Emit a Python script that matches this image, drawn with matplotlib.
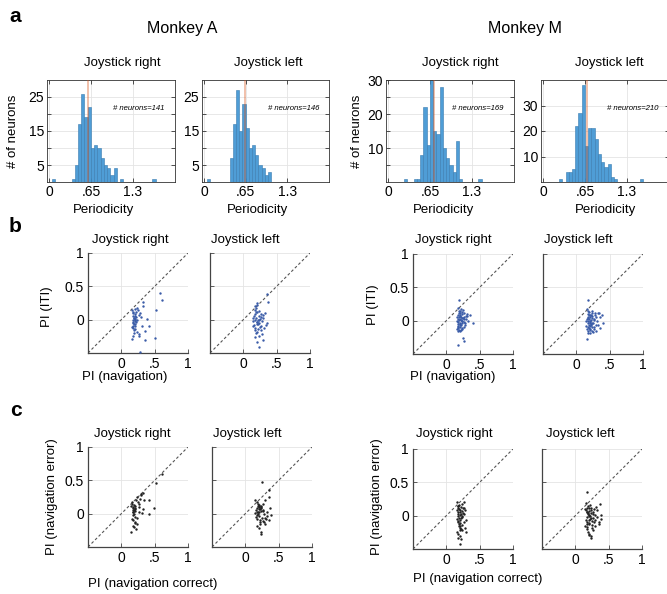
import matplotlib
matplotlib.use("Agg")
from matplotlib import pyplot as plt

plt.rcParams['font.family'] = ['Liberation Sans', 'DejaVu Sans']

W, H = 667, 594

# ---- histogram data: bin left edge (periodicity) and neuron count ----
bin_w = 0.05
hAR_left = [0.05, 0.35, 0.40, 0.45, 0.50, 0.55, 0.60, 0.65, 0.70, 0.75, 0.80, 0.85, 0.90, 0.95, 1.00, 1.10, 1.60]
hAR_cnt = [1, 1, 5, 17, 26, 19, 22, 10, 11, 10, 7, 5, 4, 2, 4, 1, 1]
hAR_med = 0.61

hAL_left = [0.05, 0.40, 0.45, 0.50, 0.55, 0.60, 0.65, 0.70, 0.75, 0.80, 0.85, 0.90, 0.95, 1.00]
hAL_cnt = [1, 7, 17, 27, 15, 23, 16, 10, 11, 8, 5, 4, 2, 3]
hAL_med = 0.635

hMR_left = [0.25, 0.40, 0.45, 0.50, 0.55, 0.60, 0.65, 0.70, 0.75, 0.80, 0.85, 0.90, 0.95, 1.00, 1.05, 1.10, 1.40]
hMR_cnt = [1, 1, 1, 8, 22, 11, 31, 15, 14, 28, 10, 7, 5, 3, 12, 1, 1]
hMR_med = 0.717

hML_left = [0.25, 0.35, 0.40, 0.45, 0.50, 0.55, 0.60, 0.65, 0.70, 0.75, 0.80, 0.85, 0.90, 0.95, 1.00, 1.05, 1.10, 1.50]
hML_cnt = [1, 4, 4, 5, 22, 27, 38, 14, 21, 21, 17, 11, 8, 6, 7, 2, 1, 1]
hML_med = 0.676

n_neurons = [141, 146, 169, 210]

# ---- b: PI (navigation) vs PI (ITI) ----
bAR_x = [0.16, 0.17, 0.18, 0.19, 0.20, 0.21, 0.22, 0.17, 0.18, 0.19,
         0.20, 0.21, 0.16, 0.18, 0.19, 0.20, 0.22, 0.23, 0.17, 0.19,
         0.18, 0.20, 0.21, 0.16, 0.19, 0.17, 0.22, 0.18, 0.20, 0.24,
         0.23, 0.25, 0.26, 0.27, 0.28, 0.30, 0.31, 0.33, 0.35, 0.35,
         0.38, 0.41, 0.28, 0.32, 0.50, 0.52, 0.58, 0.61, 0.26, 0.21]
bAR_y = [0.14, 0.10, 0.06, 0.03, 0.01, -0.01, 0.04, -0.03, -0.05, -0.07,
         -0.02, -0.09, -0.11, -0.13, -0.16, 0.08, -0.04, 0.00, 0.12, -0.20,
         -0.24, 0.05, -0.06, -0.29, 0.02, -0.01, 0.11, -0.09, -0.14, 0.18,
         -0.19, 0.15, -0.22, -0.25, 0.10, 0.04, -0.10, 0.26, -0.17, -0.30,
         0.01, -0.10, -0.48, 0.20, -0.27, 0.14, 0.40, 0.30, 0.07, 0.16]

bAL_x = [0.15, 0.16, 0.17, 0.18, 0.19, 0.20, 0.21, 0.22, 0.23, 0.24,
         0.16, 0.17, 0.18, 0.19, 0.20, 0.21, 0.22, 0.15, 0.17, 0.19,
         0.21, 0.23, 0.25, 0.26, 0.27, 0.28, 0.29, 0.30, 0.31, 0.33,
         0.34, 0.36, 0.37, 0.36, 0.18, 0.20, 0.22, 0.24, 0.26, 0.28,
         0.19, 0.21, 0.23, 0.25, 0.17, 0.14, 0.30, 0.24, 0.20, 0.27]
bAL_y = [0.02, 0.05, -0.01, 0.08, 0.03, 0.12, -0.03, 0.00, 0.06, -0.05,
         -0.08, -0.12, -0.15, 0.18, 0.22, 0.25, -0.06, -0.10, 0.15, -0.20,
         -0.18, -0.24, 0.01, -0.09, 0.04, -0.02, -0.30, 0.02, -0.13, 0.10,
         -0.08, -0.05, 0.27, 0.38, -0.26, -0.34, -0.14, -0.41, 0.09, -0.21,
         0.11, -0.04, 0.13, -0.11, 0.20, -0.02, 0.07, 0.00, -0.07, -0.16]

bMR_x = [0.16, 0.17, 0.18, 0.19, 0.20, 0.21, 0.22, 0.23, 0.24, 0.25,
         0.17, 0.18, 0.19, 0.20, 0.21, 0.22, 0.23, 0.26, 0.27, 0.28,
         0.16, 0.18, 0.20, 0.22, 0.24, 0.26, 0.29, 0.30, 0.31, 0.17,
         0.19, 0.21, 0.23, 0.25, 0.27, 0.18, 0.20, 0.22, 0.16, 0.19,
         0.21, 0.24, 0.19, 0.25, 0.27, 0.18, 0.40, 0.31, 0.33, 0.35,
         0.17, 0.20, 0.23, 0.28, 0.21, 0.18, 0.24, 0.22, 0.19, 0.26]
bMR_y = [0.00, 0.03, -0.02, 0.05, 0.08, -0.05, 0.01, 0.10, -0.03, 0.04,
         -0.08, -0.11, 0.12, -0.06, 0.15, 0.18, -0.01, 0.06, 0.02, -0.04,
         -0.13, 0.09, -0.10, -0.07, 0.13, -0.09, 0.07, 0.03, 0.10, -0.16,
         -0.14, 0.02, -0.12, 0.16, -0.02, 0.19, -0.03, 0.05, 0.06, 0.01,
         -0.15, 0.00, 0.31, -0.26, -0.31, -0.36, -0.04, 0.065, -0.01, 0.08,
         -0.05, 0.11, 0.04, -0.07, 0.07, -0.09, -0.11, -0.14, 0.14, 0.12]

bML_x = [0.15, 0.16, 0.17, 0.18, 0.19, 0.20, 0.21, 0.22, 0.23, 0.24,
         0.16, 0.17, 0.18, 0.19, 0.20, 0.21, 0.22, 0.23, 0.25, 0.26,
         0.15, 0.17, 0.19, 0.21, 0.23, 0.27, 0.28, 0.29, 0.30, 0.31,
         0.16, 0.18, 0.20, 0.22, 0.24, 0.26, 0.28, 0.32, 0.33, 0.35,
         0.17, 0.19, 0.21, 0.25, 0.18, 0.20, 0.19, 0.16, 0.40, 0.39,
         0.36, 0.34, 0.30, 0.27, 0.22, 0.18, 0.24, 0.17, 0.20, 0.23]
bML_y = [0.00, 0.02, -0.03, 0.05, -0.06, 0.08, -0.02, 0.01, -0.09, 0.04,
         -0.12, 0.10, -0.15, 0.13, -0.18, 0.06, -0.07, 0.11, -0.04, 0.03,
         -0.08, 0.15, -0.11, -0.14, 0.07, -0.10, 0.12, -0.16, 0.05, -0.01,
         0.17, -0.19, 0.00, -0.05, 0.14, -0.13, 0.09, 0.12, -0.06, 0.06,
         -0.01, 0.03, -0.03, -0.17, 0.31, -0.08, 0.09, -0.27, -0.03, 0.09,
         -0.11, 0.11, -0.07, 0.01, 0.08, -0.10, -0.15, 0.04, -0.12, -0.04]

# ---- c: PI (navigation correct) vs PI (navigation error) ----
cAR_x = [0.15, 0.16, 0.17, 0.18, 0.19, 0.20, 0.21, 0.17, 0.18, 0.19,
         0.20, 0.16, 0.18, 0.19, 0.21, 0.17, 0.20, 0.18, 0.15, 0.22,
         0.23, 0.25, 0.26, 0.28, 0.29, 0.30, 0.32, 0.34, 0.33, 0.24,
         0.22, 0.27, 0.41, 0.42, 0.49, 0.52, 0.61, 0.24, 0.16, 0.19,
         0.21, 0.18, 0.31, 0.26, 0.20]
cAR_y = [0.12, 0.15, 0.10, 0.08, 0.06, 0.11, 0.04, 0.02, -0.02, 0.00,
         -0.05, -0.08, -0.10, 0.13, -0.12, 0.05, 0.09, -0.18, -0.28, 0.20,
         0.25, 0.17, 0.10, 0.22, 0.30, 0.28, 0.31, 0.20, 0.07, -0.15,
         -0.23, 0.03, 0.20, -0.01, 0.08, 0.46, 0.59, -0.06, 0.18, -0.20,
         0.07, 0.03, 0.01, 0.14, -0.14]

cAL_x = [0.15, 0.16, 0.17, 0.18, 0.19, 0.20, 0.21, 0.22, 0.23, 0.24,
         0.16, 0.17, 0.18, 0.19, 0.20, 0.21, 0.22, 0.23, 0.25, 0.26,
         0.27, 0.28, 0.29, 0.30, 0.31, 0.32, 0.33, 0.35, 0.37, 0.38,
         0.18, 0.20, 0.22, 0.24, 0.26, 0.25, 0.35, 0.23, 0.20, 0.17,
         0.19, 0.21, 0.28, 0.30, 0.15, 0.22, 0.24, 0.36, 0.27, 0.19]
cAL_y = [0.01, 0.05, -0.02, 0.08, 0.03, 0.10, 0.12, 0.07, 0.11, 0.09,
         -0.05, 0.18, -0.08, 0.15, -0.03, 0.02, -0.10, 0.04, -0.06, 0.06,
         -0.11, 0.00, -0.15, 0.20, -0.08, 0.02, -0.04, 0.36, 0.08, -0.02,
         -0.18, -0.22, -0.13, -0.27, 0.14, 0.48, 0.25, -0.31, 0.13, 0.02,
         0.00, 0.07, -0.12, -0.07, 0.20, -0.16, 0.10, -0.10, 0.04, 0.11]

cMR_x = [0.16, 0.17, 0.18, 0.19, 0.20, 0.21, 0.22, 0.23, 0.24, 0.25,
         0.16, 0.17, 0.18, 0.19, 0.20, 0.21, 0.22, 0.23, 0.24, 0.26,
         0.27, 0.28, 0.29, 0.30, 0.17, 0.18, 0.19, 0.20, 0.21, 0.22,
         0.16, 0.18, 0.20, 0.22, 0.24, 0.26, 0.28, 0.17, 0.19, 0.21,
         0.23, 0.18, 0.20, 0.19, 0.25, 0.27, 0.22, 0.16, 0.21, 0.18]
cMR_y = [0.20, 0.15, 0.12, 0.10, 0.08, 0.05, 0.02, 0.00, -0.02, 0.04,
         -0.05, -0.08, -0.10, -0.12, -0.15, -0.18, -0.20, -0.22, 0.18, 0.21,
         0.12, 0.09, -0.06, -0.24, 0.06, 0.03, -0.03, 0.01, -0.07, 0.13,
         -0.25, -0.28, -0.30, -0.35, -0.14, -0.09, -0.19, -0.01, 0.16, -0.11,
         0.07, -0.33, -0.43, -0.16, 0.11, 0.02, -0.04, 0.09, -0.21, 0.14]

cML_x = [0.15, 0.16, 0.17, 0.18, 0.19, 0.20, 0.21, 0.22, 0.23, 0.24,
         0.16, 0.17, 0.18, 0.19, 0.20, 0.21, 0.22, 0.23, 0.25, 0.26,
         0.27, 0.28, 0.29, 0.30, 0.31, 0.33, 0.35, 0.37, 0.38, 0.39,
         0.15, 0.17, 0.19, 0.21, 0.23, 0.25, 0.27, 0.18, 0.20, 0.22,
         0.24, 0.16, 0.18, 0.20, 0.26, 0.28, 0.32, 0.36, 0.19, 0.21,
         0.17, 0.23, 0.25, 0.30, 0.18, 0.20]
cML_y = [0.10, 0.08, 0.05, 0.12, 0.02, 0.11, 0.07, 0.00, -0.03, 0.04,
         -0.06, -0.09, -0.02, 0.14, -0.07, -0.11, -0.05, 0.09, -0.08, 0.03,
         -0.04, -0.10, 0.01, -0.06, 0.13, -0.02, -0.09, 0.18, -0.05, 0.01,
         -0.15, -0.20, -0.25, -0.28, -0.31, -0.18, -0.22, 0.35, -0.13, 0.16,
         -0.34, 0.19, -0.17, -0.29, 0.06, 0.10, 0.08, -0.12, 0.04, 0.01,
         -0.12, 0.12, -0.14, -0.16, 0.06, -0.01]

BAR_COL = '#4f9dd6'
DOT_BLUE = '#3a5ca8'
GRID_COL = '#e4e4e4'


def rect(l, t, r, b):
    # pixel box -> figure fraction
    return [l / W, 1 - b / H, (r - l) / W, (b - t) / H]


def ftext(x, y, s, **kw):
    kw.setdefault('ha', 'center')
    kw.setdefault('va', 'center')
    fig.text(x / W, 1 - y / H, s, **kw)


def hist_panel(box, lefts, counts, med, n, ymax, yticks, ylabels):
    ax = fig.add_axes(rect(*box))
    ax.bar(lefts, counts, width=bin_w, align='edge', color=BAR_COL,
           edgecolor='#3a7cb0', linewidth=0.4, zorder=2)
    ax.axvline(med, color=(0.85, 0.33, 0.1), alpha=0.4, lw=1.3, zorder=3)
    ax.set_xlim(-0.03, 1.95)
    ax.set_ylim(0, ymax)
    ax.set_xticks([0, 0.65, 1.3])
    ax.set_xticklabels(['0', '.65', '1.3'])
    ax.set_yticks(yticks)
    ax.set_yticklabels(ylabels)
    ax.grid(True, color=GRID_COL, lw=0.6, zorder=0)
    ax.set_axisbelow(True)
    ax.tick_params(direction='in', length=3, width=0.6, top=True, right=True,
                   labelsize=10, pad=2, color='#333333')
    for sp in ax.spines.values():
        sp.set_linewidth(0.6)
        sp.set_color('#333333')
    ax.text(0.72, 0.725, '# neurons=%d' % n, transform=ax.transAxes,
            ha='center', va='center', fontsize=5.6, style='italic')
    return ax


def scatter_panel(box, xs, ys, color, show_ylabels):
    ax = fig.add_axes(rect(*box))
    ax.plot([-0.5, 1], [-0.5, 1], ls=(0, (2.5, 2)), color='#555555', lw=0.8, zorder=1)
    ax.scatter(xs, ys, s=3, color=color, linewidths=0, zorder=3)
    ax.set_xlim(-0.5, 1)
    ax.set_ylim(-0.5, 1)
    ax.set_xticks([0, 0.5, 1])
    ax.set_xticklabels(['0', '.5', '1'])
    ax.set_yticks([0, 0.5, 1])
    ax.set_yticklabels(['0', '0.5', '1'] if show_ylabels else [])
    ax.grid(True, color=GRID_COL, lw=0.6, zorder=0)
    ax.set_axisbelow(True)
    ax.spines['top'].set_visible(False)
    ax.spines['right'].set_visible(False)
    for side in ['left', 'bottom']:
        ax.spines[side].set_linewidth(0.9)
        ax.spines[side].set_color('#444444')
    ax.tick_params(direction='in', length=3, width=0.6, labelsize=10, pad=3,
                   color='#444444')
    return ax


fig = plt.figure(figsize=(W / 100, H / 100), dpi=100)

# ---- a: histograms ----
a_ticks = [5, 10, 15, 20, 25]
a_labels = ['5', '', '15', '', '25']
hist_panel((47, 80, 175, 182), hAR_left, hAR_cnt, hAR_med, n_neurons[0], 30, a_ticks, a_labels)
hist_panel((202, 80, 329, 182), hAL_left, hAL_cnt, hAL_med, n_neurons[1], 30, a_ticks, a_labels)
hist_panel((386, 80, 514, 182), hMR_left, hMR_cnt, hMR_med, n_neurons[2], 30,
           [5, 10, 15, 20, 25, 30], ['', '10', '', '20', '', '30'])
hist_panel((541, 80, 669, 182), hML_left, hML_cnt, hML_med, n_neurons[3], 40,
           [10, 20, 30], ['10', '20', '30'])

# ---- b and c: scatter panels ----
scatter_panel((88, 253, 188, 353), bAR_x, bAR_y, DOT_BLUE, True)
scatter_panel((210, 253, 310, 353), bAL_x, bAL_y, DOT_BLUE, False)
scatter_panel((413, 254, 513, 354), bMR_x, bMR_y, DOT_BLUE, True)
scatter_panel((543, 254, 643, 354), bML_x, bML_y, DOT_BLUE, False)

scatter_panel((88, 447, 188, 547), cAR_x, cAR_y, '#222222', True)
scatter_panel((212, 447, 312, 547), cAL_x, cAL_y, '#222222', False)
scatter_panel((413, 449, 513, 549), cMR_x, cMR_y, '#222222', True)
scatter_panel((542, 449, 642, 549), cML_x, cML_y, '#222222', False)

# ---- texts ----
ftext(15, 16, 'a', fontsize=15, fontweight='bold')
ftext(15, 227, 'b', fontsize=15, fontweight='bold')
ftext(16, 411, 'c', fontsize=15, fontweight='bold')

ftext(182, 29, 'Monkey A', fontsize=11.5)
ftext(525, 29, 'Monkey M', fontsize=11.5)

for x, s in [(122, 'Joystick right'), (268, 'Joystick left'),
             (460, 'Joystick right'), (609, 'Joystick left')]:
    ftext(x, 63, s, fontsize=9.5)
for x in [103, 258, 443, 606]:
    ftext(x, 210, 'Periodicity', fontsize=9.5)
ftext(13, 131, '# of neurons', fontsize=9.5, rotation=90)
ftext(357, 131, '# of neurons', fontsize=9.5, rotation=90)

for x, s in [(130, 'Joystick right'), (245, 'Joystick left'),
             (453, 'Joystick right'), (578, 'Joystick left')]:
    ftext(x, 240, s, fontsize=9.5)
ftext(47, 307, 'PI (ITI)', fontsize=9.5, rotation=90)
ftext(373, 305, 'PI (ITI)', fontsize=9.5, rotation=90)
ftext(125, 377, 'PI (navigation)', fontsize=9.5)
ftext(453, 377, 'PI (navigation)', fontsize=9.5)

for x, s in [(132, 'Joystick right'), (247, 'Joystick left'),
             (454, 'Joystick right'), (580, 'Joystick left')]:
    ftext(x, 434, s, fontsize=9.5)
ftext(52, 497, 'PI (navigation error)', fontsize=9.5, rotation=90)
ftext(377, 497, 'PI (navigation error)', fontsize=9.5, rotation=90)
ftext(153, 584, 'PI (navigation correct)', fontsize=9.5)
ftext(478, 579, 'PI (navigation correct)', fontsize=9.5)

fig.savefig('out.png', dpi=100)
